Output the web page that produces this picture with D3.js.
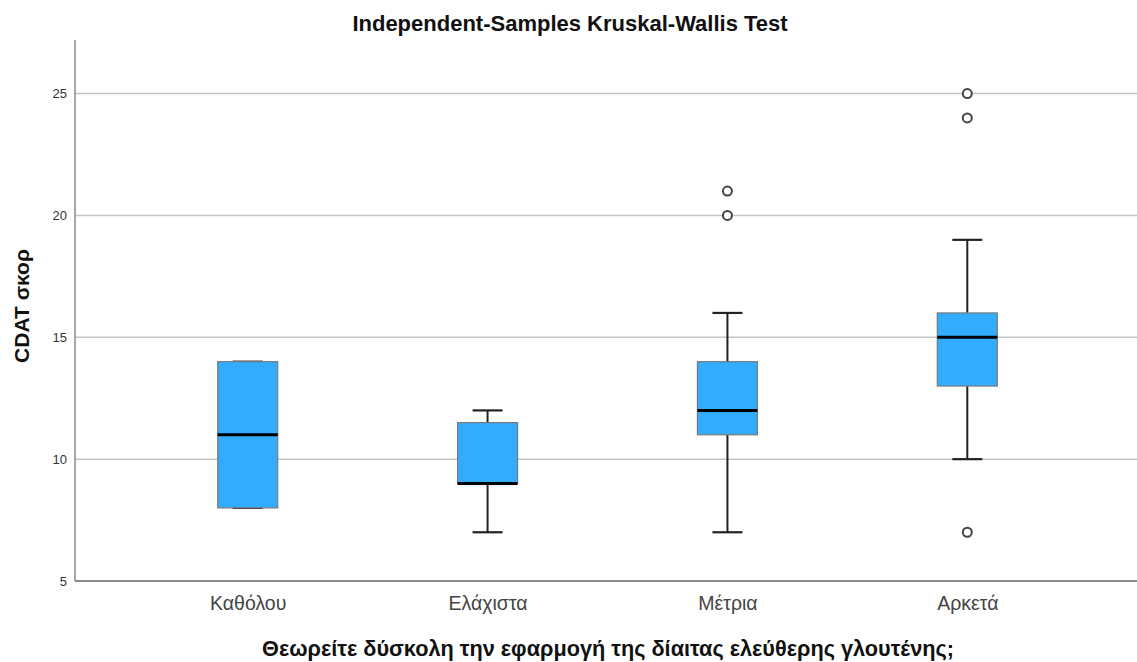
<!DOCTYPE html>
<html>
<head>
<meta charset="utf-8">
<script src="https://cdn.jsdelivr.net/npm/d3@7/dist/d3.min.js"></script>
<style>
  html, body { margin: 0; padding: 0; background: #fff; }
  svg { display: block; }
</style>
</head>
<body>
<svg id="chart" width="1137" height="662"></svg>
<script>
// Box-plot summaries per response group
const categories = ["Καθόλου", "Ελάχιστα", "Μέτρια", "Αρκετά"];
const whiskerLow  = [8, 7, 7, 10];
const q1          = [8, 9, 11, 13];
const median      = [11, 9, 12, 15];
const q3          = [14, 11.5, 14, 16];
const whiskerHigh = [14, 12, 16, 19];
const outliers    = [[], [], [20, 21], [7, 24, 25]];
const yTicks      = [5, 10, 15, 20, 25];

const title  = "Independent-Samples Kruskal-Wallis Test";
const xTitle = "Θεωρείτε δύσκολη την εφαρμογή της δίαιτας ελεύθερης γλουτένης;";
const yTitle = "CDAT σκορ";

const W = 1137, H = 662;
const plotL = 75, plotR = 1140, plotT = 40, plotB = 581;

const svg = d3.select("#chart");

const x = d3.scalePoint().domain(categories).range([plotL, plotR]).padding(0.72);
const y = d3.scaleLinear().domain([5, 27.2]).range([plotB, plotT]);

const boxW = 60, capW = 30;

// Horizontal grid lines
svg.append("g")
  .selectAll("line")
  .data(yTicks.filter(t => t > 5))
  .join("line")
  .attr("x1", plotL).attr("x2", W)
  .attr("y1", d => y(d)).attr("y2", d => y(d))
  .attr("stroke", "#c4c4c4").attr("stroke-width", 1.5);

// Y axis
const yAxis = d3.axisLeft(y).tickValues(yTicks).tickSize(0).tickPadding(8).tickFormat(d3.format("d"));
const gy = svg.append("g").attr("transform", `translate(${plotL},0)`).call(yAxis);
gy.select(".domain").remove();
gy.selectAll("text")
  .attr("font-family", "Liberation Sans, Arial, sans-serif")
  .attr("font-size", 13).attr("fill", "#333");
svg.append("line")
  .attr("x1", plotL).attr("x2", plotL)
  .attr("y1", plotT).attr("y2", plotB)
  .attr("stroke", "#8a8a8a").attr("stroke-width", 1.5);

// X axis
const xAxis = d3.axisBottom(x).tickSize(0).tickPadding(14);
const gx = svg.append("g").attr("transform", `translate(0,${plotB})`).call(xAxis);
gx.select(".domain").remove();
gx.selectAll("text")
  .attr("font-family", "Liberation Sans, Arial, sans-serif")
  .attr("font-size", 21).attr("fill", "#444")
  .attr("transform", "scale(0.93,1)");
svg.append("line")
  .attr("x1", plotL).attr("x2", W)
  .attr("y1", plotB).attr("y2", plotB)
  .attr("stroke", "#666").attr("stroke-width", 1.5);

// Boxes
const rows = categories.map((c, i) => ({
  c, lo: whiskerLow[i], q1: q1[i], med: median[i], q3: q3[i], hi: whiskerHigh[i], out: outliers[i]
}));

const g = svg.append("g").selectAll("g").data(rows).join("g")
  .attr("transform", d => `translate(${x(d.c)},0)`);

// whisker stems
g.append("line")
  .attr("x1", 0).attr("x2", 0)
  .attr("y1", d => y(d.q3)).attr("y2", d => y(d.hi))
  .attr("stroke", "#222").attr("stroke-width", 2);
g.append("line")
  .attr("x1", 0).attr("x2", 0)
  .attr("y1", d => y(d.q1)).attr("y2", d => y(d.lo))
  .attr("stroke", "#222").attr("stroke-width", 2);
// whisker caps
g.append("line")
  .attr("x1", -capW / 2).attr("x2", capW / 2)
  .attr("y1", d => y(d.hi)).attr("y2", d => y(d.hi))
  .attr("stroke", "#222").attr("stroke-width", 2.2);
g.append("line")
  .attr("x1", -capW / 2).attr("x2", capW / 2)
  .attr("y1", d => y(d.lo)).attr("y2", d => y(d.lo))
  .attr("stroke", "#222").attr("stroke-width", 2.2);

// box
g.append("rect")
  .attr("x", -boxW / 2).attr("width", boxW)
  .attr("y", d => y(d.q3))
  .attr("height", d => y(d.q1) - y(d.q3))
  .attr("fill", "#33acff")
  .attr("stroke", "#7a7a7a").attr("stroke-width", 1.2);

// median
g.append("line")
  .attr("x1", -boxW / 2).attr("x2", boxW / 2)
  .attr("y1", d => y(d.med)).attr("y2", d => y(d.med))
  .attr("stroke", "#000").attr("stroke-width", 3);

// outliers
g.selectAll("circle").data(d => d.out).join("circle")
  .attr("cx", 0).attr("cy", d => y(d))
  .attr("r", 4.5)
  .attr("fill", "#fff").attr("stroke", "#444").attr("stroke-width", 2);

// Titles
svg.append("text")
  .attr("x", 570).attr("y", 31)
  .attr("text-anchor", "middle")
  .attr("font-family", "Liberation Sans, Arial, sans-serif")
  .attr("font-weight", "bold").attr("font-size", 22).attr("fill", "#111")
  .text(title);

svg.append("text")
  .attr("x", 608).attr("y", 656)
  .attr("text-anchor", "middle")
  .attr("font-family", "Liberation Sans, Arial, sans-serif")
  .attr("font-weight", "bold").attr("font-size", 21.7).attr("fill", "#111")
  .text(xTitle);

svg.append("text")
  .attr("transform", "translate(29,306) rotate(-90)")
  .attr("text-anchor", "middle")
  .attr("font-family", "Liberation Sans, Arial, sans-serif")
  .attr("font-weight", "bold").attr("font-size", 21).attr("fill", "#111")
  .text(yTitle);
</script>
</body>
</html>
